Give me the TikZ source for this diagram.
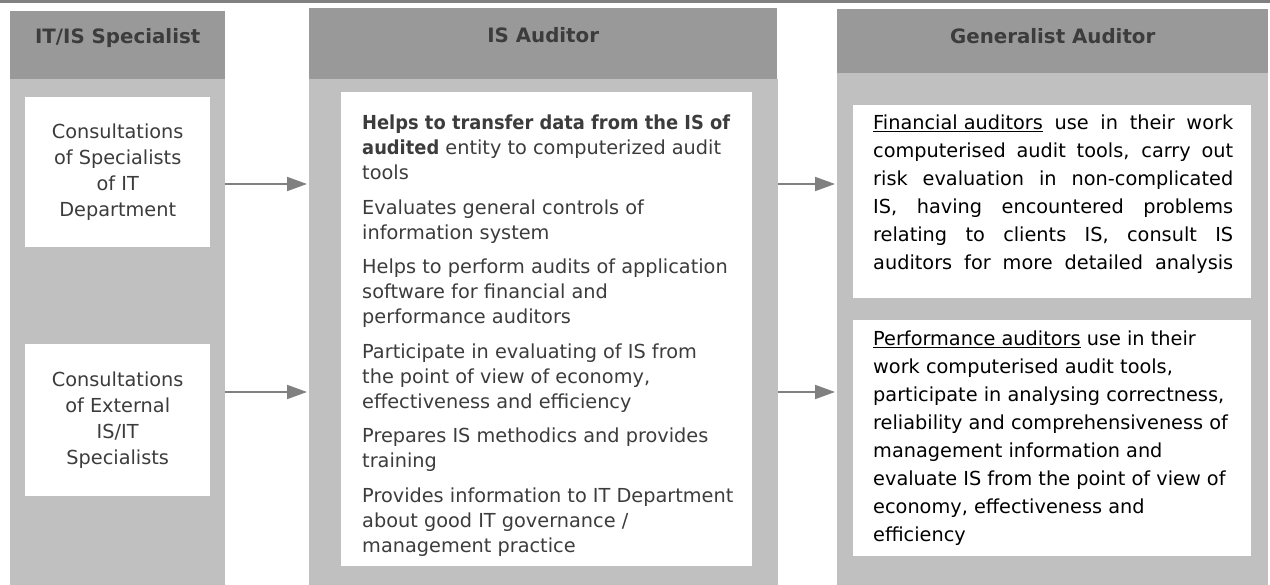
\documentclass[tikz,border=0pt]{standalone}
\usepackage{fontspec}
\setmainfont{DejaVu Sans}
\newfontfamily\narrowsans{DejaVu Sans}[FakeStretch=0.925]
\usepackage{tikz}
\usetikzlibrary{arrows.meta, positioning}

\definecolor{rulegray}{HTML}{808080}
\definecolor{headgray}{HTML}{999999}
\definecolor{bodygray}{HTML}{C0C0C0}
\definecolor{textgray}{HTML}{3C3C3C}

% one justified line of the right column
\newcommand{\fullline}[1]{\makebox[360pt][s]{#1}}
% bold run, set a little narrower
\newcommand{\keytext}[1]{{\narrowsans\bfseries #1}}

\begin{document}
\begin{tikzpicture} [x=1pt, y=-1pt,
		% define styles
		headnodestyle/.style={
			% The shape:
			rectangle,
			anchor=north west,
			inner sep=0pt,
			% The filling:
			fill=headgray,
			% Font
			text=textgray,
			font=\fontsize{19.8}{24}\selectfont\bfseries
		},
		columnnodestyle/.style={
			% The shape:
			rectangle,
			anchor=north west,
			inner sep=0pt,
			% The filling:
			fill=bodygray
		},
		boxnodestyle/.style={
			% The shape:
			rectangle,
			anchor=north west,
			inner sep=0pt,
			% The filling:
			fill=white,
			% Font
			text=textgray,
			font=\fontsize{19.3}{26}\selectfont
		},
		textnodestyle/.style={
			% The shape:
			rectangle,
			inner sep=0pt,
			align=left,
			% Font
			text=textgray,
			font=\fontsize{19.3}{25}\selectfont
		},
		arrow/.style={
			-{Triangle[length=20pt, width=14pt]},
			% Thickness
			line width=2pt,
			% Color
			rulegray,
			shorten >=2pt
		}]
		% end of style definition

		\useasboundingbox (0,0) rectangle (1270,585);
		\fill [rulegray] (0,0) rectangle (1270,3);

		% draw columns
		\node (hSpec) [headnodestyle, minimum width=215pt, text height=32pt, text depth=36pt] at (10,11) {IT/IS Specialist};
		\node (cSpec) [columnnodestyle, minimum width=215pt, minimum height=506pt] at (10,79) {};

		\node (hIsa) [headnodestyle, minimum width=468pt, text height=34pt, text depth=37pt] at (309,8) {IS Auditor};
		\node (cIsa) [columnnodestyle, minimum width=469pt, minimum height=506pt] at (309,79) {};

		\node (hGen) [headnodestyle, minimum width=431pt, text height=34pt, text depth=30pt] at (837,9) {Generalist Auditor};
		\node (cGen) [columnnodestyle, minimum width=431pt, minimum height=512pt] at (837,73) {};

		% draw boxes
		\node (bSpecA) [boxnodestyle, minimum width=185pt, minimum height=150pt, align=center] at (25,97)
			{Consultations\\of Specialists\\of IT\\Department};
		\node (bSpecB) [boxnodestyle, minimum width=185pt, minimum height=152pt, align=center] at (25,344)
			{Consultations\\of External\\IS/IT\\Specialists};

		\node (bIsa) [boxnodestyle, minimum width=411pt, minimum height=474pt] at (341,92) {};
		\node (tIsa) [textnodestyle, below right=23pt and 21pt of bIsa.north west] {%
			\keytext{Helps to transfer data from the IS of}\\
			\keytext{audited} entity to computerized audit\\
			tools\\[9.5pt]
			Evaluates general controls of\\
			information system\\[9.5pt]
			Helps to perform audits of application\\
			software for financial and\\
			performance auditors\\[9.5pt]
			Participate in evaluating of IS from\\
			the point of view of economy,\\
			effectiveness and efficiency\\[9.5pt]
			Prepares IS methodics and provides\\
			training\\[9.5pt]
			Provides information to IT Department\\
			about good IT governance /\\
			management practice};

		\node (bGenA) [boxnodestyle, minimum width=398pt, minimum height=193pt] at (853,105) {};
		\node (tGenA) [textnodestyle, text=black, font=\fontsize{19.3}{28}\selectfont,
			below right=10pt and 20pt of bGenA.north west] {%
			\fullline{\underline{Financial auditors} use in their work}\\
			\fullline{computerised audit tools, carry out}\\
			\fullline{risk evaluation in non-complicated}\\
			\fullline{IS, having encountered problems}\\
			\fullline{relating to clients IS, consult IS}\\
			\fullline{auditors for more detailed analysis}};

		\node (bGenB) [boxnodestyle, minimum width=398pt, minimum height=236pt] at (853,320) {};
		\node (tGenB) [textnodestyle, text=black, font=\fontsize{19.3}{28}\selectfont,
			below right=11pt and 20pt of bGenB.north west] {%
			\underline{Performance auditors} use in their\\
			work computerised audit tools,\\
			participate in analysing correctness,\\
			reliability and comprehensiveness of\\
			management information and\\
			evaluate IS from the point of view of\\
			economy, effectiveness and\\
			efficiency};

		% connect columns
		\coordinate (upFlow) at (0,184);
		\coordinate (lowFlow) at (0,392);
		\draw [arrow] (cSpec.east |- upFlow) -- (cIsa.west |- upFlow);
		\draw [arrow] (cSpec.east |- lowFlow) -- (cIsa.west |- lowFlow);
		\draw [arrow] (cIsa.east |- upFlow) -- (cGen.west |- upFlow);
		\draw [arrow] (cIsa.east |- lowFlow) -- (cGen.west |- lowFlow);
	\end{tikzpicture}
\end{document}
